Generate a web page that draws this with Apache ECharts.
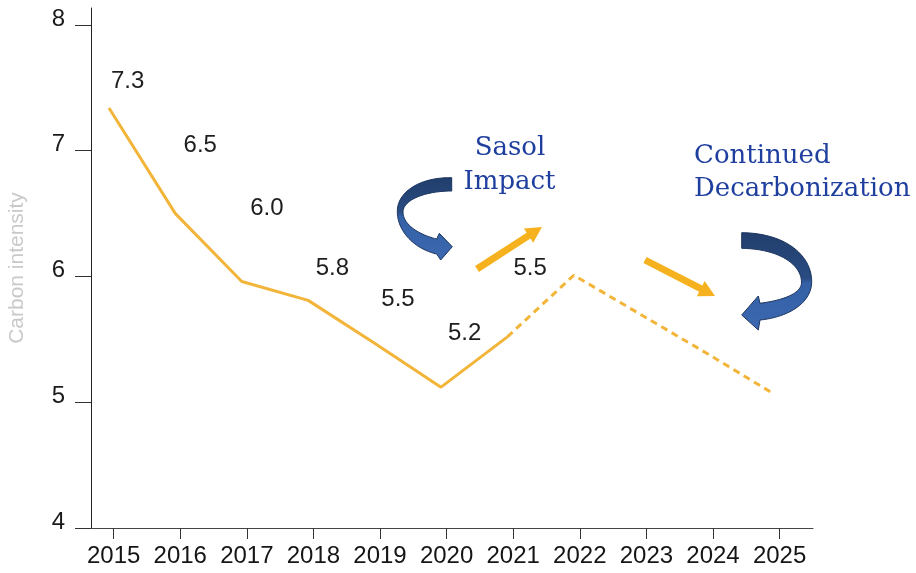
<!DOCTYPE html>
<html>
<head>
<meta charset="utf-8">
<script src="https://cdn.jsdelivr.net/npm/echarts@6/dist/echarts.min.js"></script>
<style>
html,body{margin:0;padding:0;background:#fff;}
#chart{width:916px;height:573px;}
</style>
</head>
<body>
<div id="chart"></div>
<script>
// ---- data ----
const years = [2015, 2016, 2017, 2018, 2019, 2020, 2021, 2022, 2023, 2024, 2025];
const actualValues   = [7.34, 6.50, 5.96, 5.81, 5.47, 5.12, 5.52, null, null, null, null];
const forecastValues = [null, null, null, null, null, null, 5.52, 6.01, 5.70, 5.39, 5.07];
const labelYears  = [2015, 2016, 2017, 2018, 2019, 2020, 2021];
const labelValues = [7.3, 6.5, 6.0, 5.8, 5.5, 5.2, 5.5];
const yTicks = [4, 5, 6, 7, 8];
const yAxisName = 'Carbon intensity';
const note1 = ['Sasol', 'Impact'];
const note2 = ['Continued', 'Decarbonization'];

// ---- label placement (style) ----
const labelOffsets = [[14, -32], [20, -68], [20, -68], [19, -33], [18, -40], [18, -44], [17, -71]];

const lineColor = '#F2B53A';
const arrowColor = '#F6B21E';
const noteColor = '#1F3F9F';

function straightArrow(x1, y1, x2, y2, w, hl, hw) {
  const dx = x2 - x1, dy = y2 - y1, L = Math.hypot(dx, dy);
  const ux = dx / L, uy = dy / L, nx = -uy, ny = ux;
  const bx = x2 - ux * hl, by = y2 - uy * hl;
  return [
    [x1 + nx * w / 2, y1 + ny * w / 2],
    [bx + nx * w / 2, by + ny * w / 2],
    [bx + nx * hw / 2, by + ny * hw / 2],
    [x2, y2],
    [bx - nx * hw / 2, by - ny * hw / 2],
    [bx - nx * w / 2, by - ny * w / 2],
    [x1 - nx * w / 2, y1 - ny * w / 2]
  ];
}

// sample a shape given as segments: ['M',x,y] ['C',x1,y1,x2,y2,x,y] ['L',x,y]
function shapePoints(segs) {
  const pts = [];
  let cx = 0, cy = 0;
  segs.forEach(s => {
    if (s[0] === 'M' || s[0] === 'L') { cx = s[1]; cy = s[2]; pts.push([cx, cy]); }
    else if (s[0] === 'C') {
      const [, x1, y1, x2, y2, x, y] = s;
      for (let k = 1; k <= 24; k++) {
        const t = k / 24, mt = 1 - t;
        pts.push([
          mt * mt * mt * cx + 3 * mt * mt * t * x1 + 3 * mt * t * t * x2 + t * t * t * x,
          mt * mt * mt * cy + 3 * mt * mt * t * y1 + 3 * mt * t * t * y2 + t * t * t * y
        ]);
      }
      cx = x; cy = y;
    }
  });
  return pts;
}

function blueGrad(split) {
  return {
    type: 'linear', x: 0, y: 0, x2: 0, y2: 1,
    colorStops: [
      { offset: 0, color: '#213E6C' },
      { offset: split - 0.03, color: '#2A4C82' },
      { offset: split + 0.02, color: '#3460A6' },
      { offset: 1, color: '#3B68B0' }
    ]
  };
}

const curl1 = shapePoints([
  ['M', 451.7, 177.7], ['C', 420, 177, 397, 192, 397.3, 211.7], ['C', 397.5, 232, 415, 249, 436.7, 254],
  ['L', 440.7, 260], ['L', 452.3, 246.7], ['L', 439.3, 233.3], ['L', 436.7, 239],
  ['C', 420, 235, 403, 225, 403, 212], ['C', 403, 200, 425, 191, 451.7, 191]
]);
const curl2 = shapePoints([
  ['M', 741.7, 232.7], ['C', 785, 233, 811.7, 255, 811.7, 281.7], ['C', 811.7, 302, 790, 317, 760, 320],
  ['L', 758.3, 330], ['L', 741.7, 315], ['L', 758.3, 296], ['L', 760, 303.3],
  ['C', 785, 300, 801, 293, 801.5, 283], ['C', 802, 265, 780, 249, 741.7, 248.3]
]);

const chart = echarts.init(document.getElementById('chart'), null, { renderer: 'canvas' });

const baseFont = 'Liberation Sans, Arial, sans-serif';

const option = {
  animation: false,
  backgroundColor: '#ffffff',
  grid: { left: 91, right: 103, top: 8, bottom: 45, containLabel: false, outerBoundsMode: 'none' },
  xAxis: [
    {
      type: 'value',
      min: 2014.66,
      max: 2025.502,
      splitLine: { show: false },
      axisLine: { show: true, onZero: false, lineStyle: { color: '#444', width: 1 } },
      axisTick: { show: true, length: 11, customValues: years, lineStyle: { color: '#333' } },
      axisLabel: {
        show: true, customValues: years, margin: 16,
        color: '#151515', fontSize: 24, fontFamily: baseFont,
        formatter: v => String(v)
      }
    },
    {
      type: 'value',
      show: false,
      min: 2014.729,
      max: 2025.602,
      splitLine: { show: false }
    }
  ],
  yAxis: {
    type: 'value',
    min: 4,
    max: 8.135,
    splitLine: { show: false },
    axisLine: { show: true, onZero: false, lineStyle: { color: '#222', width: 1 } },
    axisTick: { show: true, length: 16, customValues: yTicks, lineStyle: { color: '#333', width: 1 } },
    axisLabel: {
      show: true, customValues: yTicks, margin: 26,
      color: '#1a1a1a', fontSize: 24, fontFamily: baseFont,
      verticalAlign: 'bottom', lineHeight: 12
    },
    name: yAxisName,
    nameLocation: 'middle',
    nameRotate: 90,
    nameGap: 63,
    nameTextStyle: { color: '#C9C9C9', fontSize: 21, fontFamily: baseFont }
  },
  series: [
    {
      type: 'line',
      xAxisIndex: 1,
      data: years.map((y, i) => [y, actualValues[i]]),
      showSymbol: false,
      symbol: 'none',
      connectNulls: false,
      lineStyle: { color: lineColor, width: 3 },
      z: 3
    },
    {
      type: 'line',
      xAxisIndex: 1,
      data: years.map((y, i) => [y, forecastValues[i]]),
      showSymbol: false,
      symbol: 'none',
      connectNulls: false,
      lineStyle: { color: lineColor, width: 3, type: [7, 5] },
      z: 3
    },
    {
      type: 'scatter',
      xAxisIndex: 0,
      symbolSize: 0,
      itemStyle: { opacity: 1 },
      data: labelYears.map((y, i) => ({
        value: [y, labelValues[i]],
        label: { offset: labelOffsets[i] }
      })),
      label: {
        show: true,
        position: 'inside',
        color: '#1e1e1e',
        opacity: 1,
        fontSize: 24,
        fontFamily: baseFont,
        formatter: p => p.value[1].toFixed(1)
      },
      silent: true,
      z: 4
    }
  ],
  graphic: [
    { type: 'polygon', shape: { points: straightArrow(477, 269, 542, 227, 7, 16, 17) }, style: { fill: arrowColor }, z: 10 },
    { type: 'polygon', shape: { points: straightArrow(645, 260, 715, 296, 7, 16, 17) }, style: { fill: arrowColor }, z: 10 },
    { type: 'polygon', z: 10, shape: { points: curl1 }, style: { fill: blueGrad(0.45), stroke: '#1C355F', lineWidth: 1 } },
    { type: 'polygon', z: 10, shape: { points: curl2 }, style: { fill: blueGrad(0.5), stroke: '#1C355F', lineWidth: 1 } },
    { type: 'text', x: 510, y: 148, z: 10, style: { text: note1[0], font: '26px "DejaVu Serif"', fill: noteColor, align: 'center', verticalAlign: 'middle' } },
    { type: 'text', x: 509.5, y: 182, z: 10, style: { text: note1[1], font: '26px "DejaVu Serif"', fill: noteColor, align: 'center', verticalAlign: 'middle' } },
    { type: 'text', x: 694, y: 156, z: 10, style: { text: note2[0], font: '26px "DejaVu Serif"', fill: noteColor, align: 'left', verticalAlign: 'middle' } },
    { type: 'text', x: 694, y: 189, z: 10, style: { text: note2[1], font: '26px "DejaVu Serif"', fill: noteColor, align: 'left', verticalAlign: 'middle' } }
  ]
};

chart.setOption(option);
</script>
</body>
</html>
